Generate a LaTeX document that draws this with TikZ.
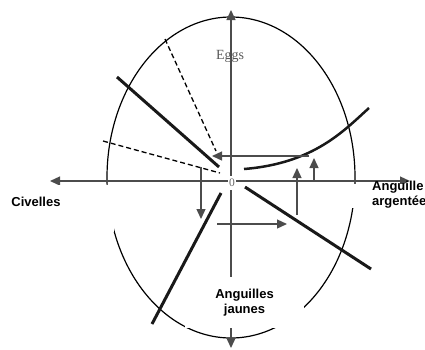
\documentclass[tikz,border=0pt]{standalone}
\usepackage{fontspec}
\setmainfont{Liberation Serif}
\setsansfont{Liberation Sans}
\usetikzlibrary{arrows.meta}
\tikzset{
  axis/.style={draw=black!70, line width=1.3pt, <->},
  thickline/.style={line width=3pt, black!90},
  dashline/.style={line width=1.3pt, dash pattern=on 5pt off 3pt},
  flow/.style={draw=black!70, line width=1.3pt, ->},
  lab/.style={font=\sffamily\bfseries\fontsize{13}{14.5}\selectfont, fill=white, inner sep=0pt}
}
\begin{document}
\begin{tikzpicture}[x=1pt,y=-1pt,>={Triangle[length=10pt,width=9pt]}]
  \useasboundingbox (0,0) rectangle (425,349);

  %egg outline
  \draw[line width=1.2pt] (231,177.5) ellipse [x radius=124pt, y radius=160.5pt];

  %axes
  \coordinate (west) at (50,181);
  \coordinate (east) at (410,181);
  \coordinate (north) at (231,10);
  \coordinate (south) at (231,348);
  \draw[axis] (west) -- (east);
  \draw[axis] (south) -- (north);

  %dashed lines
  \coordinate (d1) at (165,39);
  \coordinate (d2) at (216,151);
  \coordinate (e1) at (103,141);
  \coordinate (e2) at (220,173);
  \draw[dashline] (d1) -- (d2);
  \draw[dashline] (e1) -- (e2);

  %thick lines
  \coordinate (a1) at (117,77);
  \coordinate (a2) at (219,167);
  \coordinate (b1) at (245,187);
  \coordinate (b2) at (371,269);
  \coordinate (c1) at (152,324);
  \coordinate (c2) at (221,193);
  \draw[thickline] (a1) -- (a2);
  \draw[thickline] (b1) -- (b2);
  \draw[thickline] (c1) -- (c2);

  %growth curve
  \coordinate (f1) at (244,169);
  \coordinate (f2) at (369,108);
  \draw[thickline, line width=2.5pt] (f1) .. controls (314,163.4) and (344,130.5) .. (f2);

  %arrows
  \coordinate (g1) at (309,156);
  \coordinate (g2) at (212,156);
  \draw[flow] (g1) -- (g2);
  \coordinate (h1) at (297,215);
  \coordinate (h2) at (297,168);
  \draw[flow] (h1) -- (h2);
  \coordinate (k1) at (314,181);
  \coordinate (k2) at (314,158);
  \draw[flow] (k1) -- (k2);
  \coordinate (m1) at (201,167);
  \coordinate (m2) at (201,219);
  \draw[flow] (m1) -- (m2);
  \coordinate (n1) at (217,224);
  \coordinate (n2) at (287,224);
  \draw[flow] (n1) -- (n2);

  %texts
  \node[font=\fontsize{11.5}{11.5}\selectfont, text=black!60, fill=white, inner xsep=1.3pt, inner ysep=3.3pt] (origin) at (232,183) {0};
  \node[font=\fontsize{14}{14}\selectfont, text=black!65] (eggs) at (230,56) {Eggs};
  \node[lab, anchor=base, text height=21.5pt, text depth=25.5pt, minimum width=156pt] (civelles) at (36,206.5) {Civelles};
  \node[lab, anchor=base west, align=left, inner xsep=23pt, text height=21pt, text depth=3pt] (argentee) at (349,205) {Anguille\\argentée};
  \node[lab, align=center, minimum width=119pt, minimum height=51pt] (jaunes) at (244.5,302.5) {Anguilles\\jaunes};

\end{tikzpicture}
\end{document}
